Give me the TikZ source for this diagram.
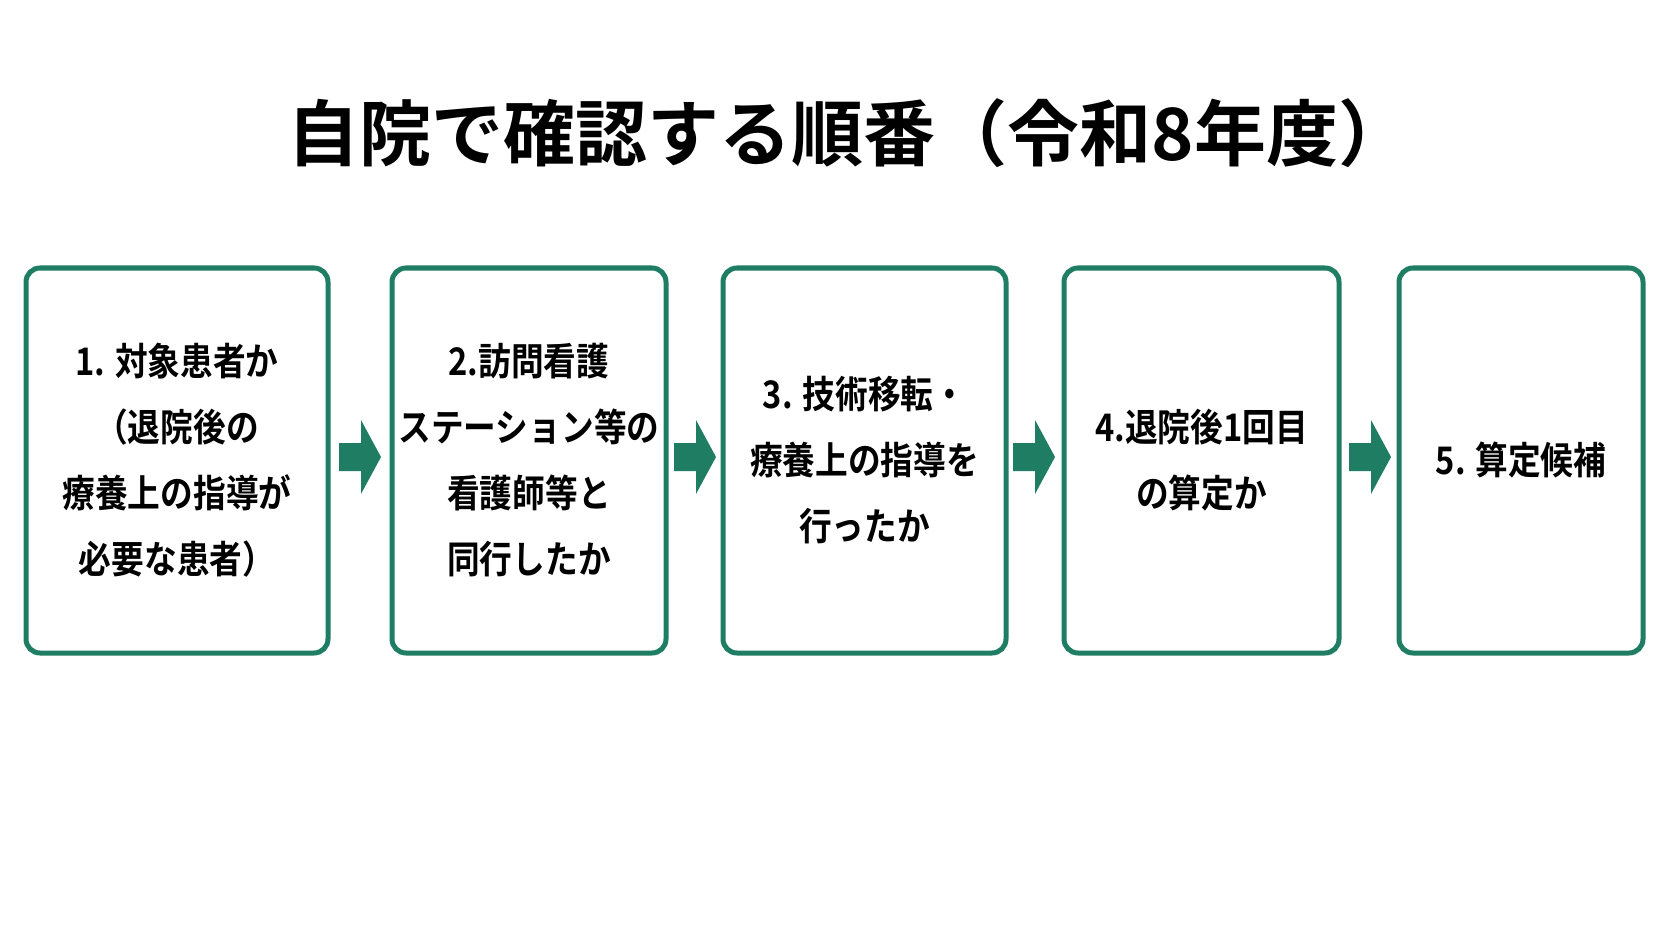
\documentclass[tikz,border=0pt]{standalone}
\usepackage{fontspec}
\setmainfont{Noto Sans CJK JP}[BoldFont={* Bold}]
\newfontfamily\condjp{Noto Sans CJK JP Bold}[FakeStretch=0.86]
\definecolor{g}{HTML}{1F7D64}
\begin{document}
\begin{tikzpicture}[x=1pt,y=-1pt,
 box/.style={draw=g,line width=5pt,rounded corners=14pt,fill=white,align=center,font=\condjp\fontsize{38}{66}\selectfont,inner sep=0pt},
 arr/.style={fill=g,draw=none}]
\useasboundingbox (0,0) rectangle (1672,941);
\fill[white] (0,0) rectangle (1672,941);
\node[font=\bfseries\fontsize{72}{80}\selectfont] (title) at (849,133) {自院で確認する順番（令和8年度）};
\foreach \n/\a/\b/\t in {1/26/328/{1. 対象患者か\\（退院後の\\療養上の指導が\\必要な患者）},
 2/392/666/{2.訪問看護\\ステーション等の\\看護師等と\\同行したか},
 3/723/1006/{3. 技術移転・\\療養上の指導を\\行ったか},
 4/1064/1339/{4.退院後1回目\\の算定か},
 5/1399/1643/{5. 算定候補}}{
 \draw[box] (\a,268) rectangle (\b,653);
 \node[box,draw=none,fill=none] (b\n) at ({(\a+\b)/2},460) {\t};
}
\foreach \i/\x in {1/339,2/674,3/1013,4/1349}{
 \fill[arr] (\x,443) -- (\x+22,443) -- (\x+22,420) -- (\x+42,457) -- (\x+22,494) -- (\x+22,471) -- (\x,471) -- cycle;
}
\end{tikzpicture}
\end{document}
